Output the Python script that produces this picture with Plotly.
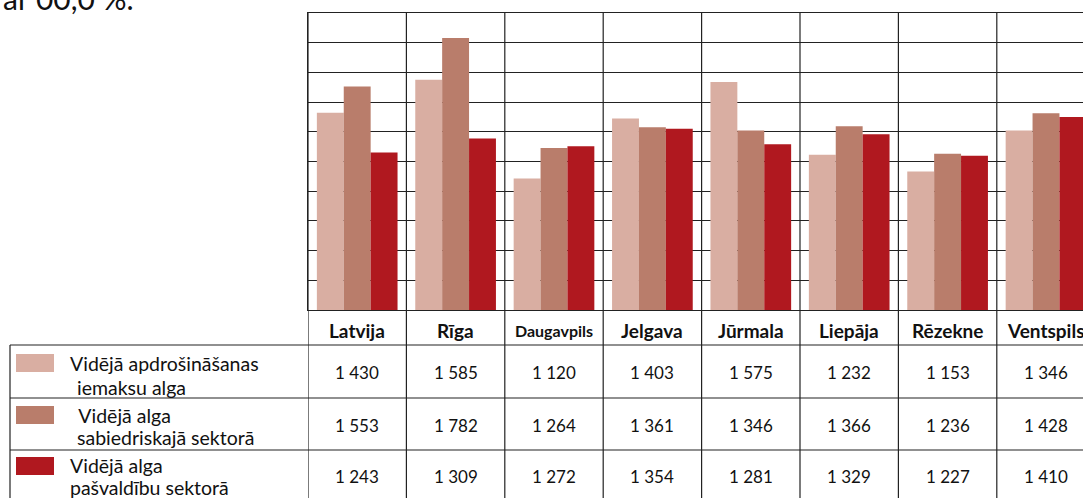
import plotly.graph_objects as go

categories = ["Latvija", "Rīga", "Daugavpils", "Jelgava", "Jūrmala", "Liepāja", "Rēzekne", "Ventspils"]
series_names = [
    ["Vidējā apdrošināšanas", " iemaksu alga"],
    [" Vidējā alga", " sabiedriskajā sektorā"],
    ["Vidējā alga", "pašvaldību sektorā"],
]
insurance_wage = [1430, 1585, 1120, 1403, 1575, 1232, 1153, 1346]
public_sector_wage = [1553, 1782, 1264, 1361, 1346, 1366, 1236, 1428]
municipal_wage = [1243, 1309, 1272, 1354, 1281, 1329, 1227, 1410]
colors = ["#D9AEA2", "#B97D6B", "#B0181F"]
headline = "ar 00,0 %."

W, H = 1083, 498
FONT = "Lato"
LINE = "#222222"


def px_x(p):
    return p / W


def px_y(p):
    return 1 - p / H


series_values = [insurance_wage, public_sector_wage, municipal_wage]

fig = go.Figure()
for name, vals, col in zip(series_names, series_values, colors):
    fig.add_trace(go.Bar(x=categories, y=vals, name=" ".join(name).strip(),
                         marker=dict(color=col, line=dict(width=0))))

plot_left, plot_top, plot_bottom = 308, 13, 310
cat_w = 98.4
n_vis = (W - plot_left) / cat_w

shapes = []
annotations = []

# vertical category boundary lines through chart + table
for i in range(len(categories) + 1):
    shapes.append(dict(type="line", xref="x", yref="paper", x0=i - 0.5, x1=i - 0.5,
                       y0=0, y1=px_y(plot_top), line=dict(color=LINE, width=1.2)))
# left border of table legend column
shapes.append(dict(type="line", xref="paper", yref="paper", x0=px_x(10), x1=px_x(10),
                   y0=0, y1=px_y(345), line=dict(color=LINE, width=1.2)))
# table horizontal lines
for yy in [345, 398, 450]:
    shapes.append(dict(type="line", xref="paper", yref="paper", x0=px_x(10), x1=1,
                       y0=px_y(yy), y1=px_y(yy), line=dict(color=LINE, width=1.2)))

# category labels row
for i, c in enumerate(categories):
    size = 16 if c == "Daugavpils" else 19
    annotations.append(dict(xref="x", yref="paper", x=i, y=px_y(330), text="<b>%s</b>" % c,
                            showarrow=False, xanchor="center", yanchor="middle",
                            font=dict(family=FONT, size=size, color="#111111")))

# table values
row_centers = [372, 425, 476]
for r, vals in enumerate(series_values):
    for i, v in enumerate(vals):
        txt = f"{v:,}".replace(",", " ")
        annotations.append(dict(xref="x", yref="paper", x=i, y=px_y(row_centers[r]), text=txt,
                                showarrow=False, xanchor="center", yanchor="middle",
                                font=dict(family=FONT, size=17, color="#111111")))

# legend column: swatches and labels
sw_tops = [354, 406, 457]
label_pos = [[(68, 363), (70, 387)], [(72, 415), (70, 437)], [(68, 465), (68, 487)]]
for r in range(3):
    shapes.append(dict(type="rect", xref="paper", yref="paper", x0=px_x(16), x1=px_x(54),
                       y0=px_y(sw_tops[r] + 18), y1=px_y(sw_tops[r]),
                       fillcolor=colors[r], line=dict(width=0)))
    for (lx, ly), t in zip(label_pos[r], series_names[r]):
        annotations.append(dict(xref="paper", yref="paper", x=px_x(lx), y=px_y(ly),
                                text=t.replace(" ", "\u00a0") if t.startswith(" ") else t,
                                showarrow=False, xanchor="left", yanchor="middle",
                                font=dict(family=FONT, size=19.5, color="#111111")))

# partially visible headline at the top (cropped)
annotations.append(dict(xref="paper", yref="paper", x=px_x(136), y=px_y(18), text=headline,
                        showarrow=False, xanchor="right", yanchor="bottom",
                        font=dict(family=FONT, size=30, color="#111111")))

fig.update_layout(
    width=W, height=H,
    margin=dict(l=0, r=0, t=0, b=0),
    paper_bgcolor="white", plot_bgcolor="white",
    barmode="group", bargap=0.18, bargroupgap=0,
    showlegend=False,
    font=dict(family=FONT),
    xaxis=dict(domain=[px_x(plot_left), 1], range=[-0.5, -0.5 + n_vis],
               showticklabels=False, ticks="", showgrid=False,
               showline=True, mirror=True, linecolor=LINE, linewidth=1.2, zeroline=False),
    yaxis=dict(domain=[px_y(plot_bottom), px_y(plot_top)], range=[500, 1900], dtick=140,
               tick0=500, showticklabels=False, ticks="", showgrid=True,
               gridcolor=LINE, gridwidth=1.2, zeroline=False,
               showline=True, linecolor=LINE, linewidth=1.2),
    shapes=shapes,
    annotations=annotations,
)

fig.write_html("out.html", config={"displayModeBar": False},
               post_script="document.body.style.margin='0';document.body.style.overflow='hidden';")
